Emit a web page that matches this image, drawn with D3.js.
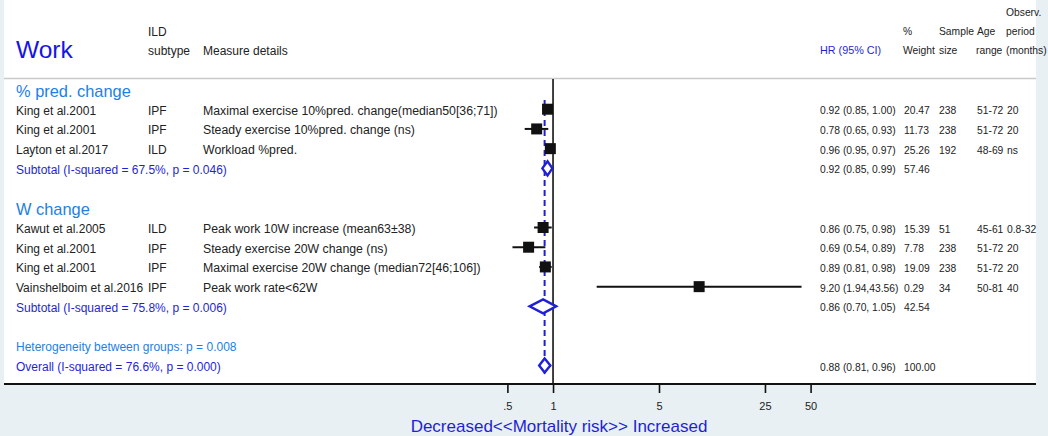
<!DOCTYPE html>
<html>
<head>
<meta charset="utf-8">
<script src="https://cdn.jsdelivr.net/npm/d3@7"></script>
<style>
  body { margin: 0; background: #e8f0f3; }
  svg { display: block; font-family: "Liberation Sans", Arial, sans-serif; }
</style>
</head>
<body>
<svg id="chart" width="1048" height="436"></svg>
<script>
// study rows
const studies = ['King et al.2001', 'King et al.2001', 'Layton et al.2017',
  'Kawut et al.2005', 'King et al.2001', 'King et al.2001', 'Vainshelboim et al.2016'];
const subtypes = ['IPF', 'IPF', 'ILD', 'ILD', 'IPF', 'IPF', 'IPF'];
const measures = ['Maximal exercise 10%pred. change(median50[36;71])',
  'Steady exercise 10%pred. change (ns)', 'Workload %pred.',
  'Peak work 10W increase (mean63\u00b138)', 'Steady exercise 20W change (ns)',
  'Maximal exercise 20W change (median72[46;106])', 'Peak work rate<62W'];
const hr = [0.92, 0.78, 0.96, 0.86, 0.69, 0.89, 9.20];
const lo = [0.85, 0.65, 0.95, 0.75, 0.54, 0.81, 1.94];
const hi = [1.00, 0.93, 0.97, 0.98, 0.89, 0.98, 43.56];
const hrText = ['0.92 (0.85, 1.00)', '0.78 (0.65, 0.93)', '0.96 (0.95, 0.97)',
  '0.86 (0.75, 0.98)', '0.69 (0.54, 0.89)', '0.89 (0.81, 0.98)', '9.20 (1.94,43.56)'];
const weights = ['20.47', '11.73', '25.26', '15.39', '7.78', '19.09', '0.29'];
const sampleSize = ['238', '238', '192', '51', '238', '238', '34'];
const ageRange = ['51-72', '51-72', '48-69', '45-61', '51-72', '51-72', '50-81'];
const period = ['20', '20', 'ns', '0.8-32', '20', '20', '40'];
const studyRow = [1, 2, 3, 7, 8, 9, 10];

// groups and pooled estimates
const groupNames = ['% pred. change', 'W change'];
const groupRow = [0, 6];
const pooledLabels = ['Subtotal (I-squared = 67.5%, p = 0.046)',
  'Subtotal (I-squared = 75.8%, p = 0.006)', 'Overall (I-squared = 76.6%, p = 0.000)'];
const pooledHr = [0.92, 0.86, 0.88];
const pooledLo = [0.85, 0.70, 0.81];
const pooledHi = [0.99, 1.05, 0.96];
const pooledText = ['0.92 (0.85, 0.99)', '0.86 (0.70, 1.05)', '0.88 (0.81, 0.96)'];
const pooledWeight = ['57.46', '42.54', '100.00'];
const pooledRow = [4, 11, 14];
const heterogeneity = 'Heterogeneity between groups: p = 0.008';

const tickValues = [0.5, 1, 5, 25, 50];
const tickLabels = ['.5', '1', '5', '25', '50'];

const svg = d3.select('svg#chart');
const x = d3.scaleLog().domain([0.5, 50]).range([507.4, 810.6]);
const y = d3.scaleLinear().domain([0, 14]).range([89.5, 365.5]);

const panel = { left: 4, right: 1036, top: 0, bottom: 384 };
const black = '#111';
const darkBlue = '#1f1fd6';
const lightBlue = '#1e80e6';
const numSize = '10.3px';

svg.append('rect')
  .attr('x', panel.left).attr('y', panel.top)
  .attr('width', panel.right - panel.left).attr('height', panel.bottom - panel.top)
  .attr('fill', '#fff');

// header
const head = svg.append('g').attr('fill', '#222').style('font-size', '12px');
svg.append('text').attr('x', 16).attr('y', 58).text('Work')
  .attr('fill', '#1515e8').style('font-size', '24.5px');
head.append('text').attr('x', 148).attr('y', 36).text('ILD');
head.append('text').attr('x', 148).attr('y', 55).text('subtype');
head.append('text').attr('x', 203).attr('y', 55).text('Measure details');

const headR = svg.append('g').attr('fill', '#222').style('font-size', numSize);
headR.append('text').attr('x', 820).attr('y', 54).text('HR (95% CI)')
  .attr('fill', darkBlue).style('font-size', '10.8px');
[['%', 903, 35], ['Weight', 903, 54], ['Sample', 939, 35], ['size', 939, 54],
 ['Age', 977, 35], ['range', 976, 54], ['Observ.', 1006, 16], ['period', 1006, 35],
 ['(months)', 1006, 54]].forEach(([t, tx, ty]) => {
  headR.append('text').attr('x', tx).attr('y', ty).text(t);
});

svg.append('line')
  .attr('x1', panel.left).attr('x2', panel.right).attr('y1', 78.5).attr('y2', 78.5)
  .attr('stroke', '#c9c9c9').attr('stroke-width', 1.6);

// null line and overall dashed line
svg.append('line')
  .attr('x1', x(1)).attr('x2', x(1)).attr('y1', 79).attr('y2', panel.bottom)
  .attr('stroke', black).attr('stroke-width', 1.6);
svg.append('line')
  .attr('x1', x(pooledHr[2])).attr('x2', x(pooledHr[2]))
  .attr('y1', 100).attr('y2', y(14) + 8)
  .attr('stroke', darkBlue).attr('stroke-width', 2).attr('stroke-dasharray', '6,4');

// group headings
svg.append('g').selectAll('text').data(groupNames).enter().append('text')
  .attr('x', 16).attr('y', (d, i) => y(groupRow[i]) + 7)
  .attr('fill', lightBlue).style('font-size', '16.4px')
  .text(d => d);

// study text columns
const rows = svg.append('g').attr('fill', '#222').style('font-size', '12px');
const rowY = i => y(studyRow[i]) + 5.5;
const leftCols = [[studies, 16, '12px'], [subtypes, 148, '12px'], [measures, 203, '12.3px']];
leftCols.forEach(([arr, cx, fs]) => {
  rows.append('g').style('font-size', fs).selectAll('text').data(arr).enter().append('text')
    .attr('x', cx).attr('y', (d, i) => rowY(i)).text(d => d);
});
const rightCols = [[hrText, 820], [weights, 904], [sampleSize, 939], [ageRange, 977], [period, 1007]];
rightCols.forEach(([arr, cx]) => {
  rows.append('g').style('font-size', numSize).selectAll('text').data(arr).enter().append('text')
    .attr('x', cx).attr('y', (d, i) => rowY(i) - 0.5).text(d => d);
});

// CI lines and boxes
const marks = svg.append('g');
marks.selectAll('line.ci').data(hr).enter().append('line')
  .attr('class', 'ci')
  .attr('x1', (d, i) => x(lo[i])).attr('x2', (d, i) => x(hi[i]))
  .attr('y1', (d, i) => y(studyRow[i])).attr('y2', (d, i) => y(studyRow[i]))
  .attr('stroke', black).attr('stroke-width', 2);
const box = 11;
marks.selectAll('rect.box').data(hr).enter().append('rect')
  .attr('class', 'box')
  .attr('x', d => x(d) - box / 2).attr('y', (d, i) => y(studyRow[i]) - box / 2)
  .attr('width', box).attr('height', box)
  .attr('fill', black);

// pooled diamonds
marks.selectAll('path.diamond').data(pooledHr).enter().append('path')
  .attr('class', 'diamond')
  .attr('d', (d, i) => {
    const cy = y(pooledRow[i]);
    const h = 7;
    return `M${x(pooledLo[i])},${cy}L${x(d)},${cy - h}L${x(pooledHi[i])},${cy}L${x(d)},${cy + h}Z`;
  })
  .attr('fill', '#fff').attr('stroke', darkBlue).attr('stroke-width', 2.4)
  .attr('stroke-linejoin', 'miter');

// pooled labels
const pooled = svg.append('g').style('font-size', '12px');
pooled.selectAll('text.lab').data(pooledLabels).enter().append('text')
  .attr('x', 16).attr('y', (d, i) => y(pooledRow[i]) + 5.5)
  .attr('fill', darkBlue).text(d => d);
pooled.selectAll('text.hr').data(pooledText).enter().append('text')
  .attr('x', 820).attr('y', (d, i) => y(pooledRow[i]) + 5)
  .attr('fill', '#222').style('font-size', numSize).text(d => d);
pooled.selectAll('text.w').data(pooledWeight).enter().append('text')
  .attr('x', 904).attr('y', (d, i) => y(pooledRow[i]) + 5)
  .attr('fill', '#222').style('font-size', numSize).text(d => d);
pooled.append('text').attr('x', 16).attr('y', y(13) + 5.5)
  .attr('fill', lightBlue).text(heterogeneity);

// axis
const axis = svg.append('g')
  .attr('transform', `translate(0,${panel.bottom})`)
  .call(d3.axisBottom(x).tickValues(tickValues)
    .tickFormat((d, i) => tickLabels[i]).tickSize(9).tickPadding(9));
axis.select('.domain').remove();
axis.selectAll('.tick line').attr('stroke', black).attr('stroke-width', 1.6);
axis.selectAll('.tick text').attr('fill', '#222')
  .style('font-size', '11px').style('font-family', '"Liberation Sans", Arial, sans-serif');

svg.append('line')
  .attr('x1', panel.left).attr('x2', panel.right).attr('y1', panel.bottom).attr('y2', panel.bottom)
  .attr('stroke', black).attr('stroke-width', 2);

svg.append('text')
  .attr('x', 559).attr('y', 432).attr('text-anchor', 'middle')
  .attr('fill', darkBlue).style('font-size', '17px')
  .text('Decreased<<Mortality risk>> Increased');
</script>
</body>
</html>
